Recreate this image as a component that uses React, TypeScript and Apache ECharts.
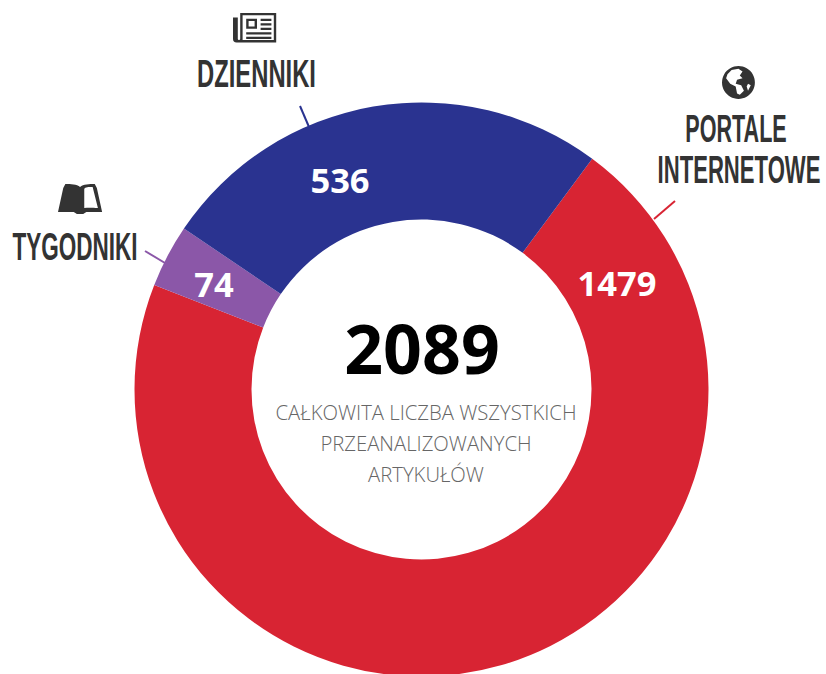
import React, { useEffect, useRef } from "react";
import * as echarts from "echarts";

const categories = ["PORTALE INTERNETOWE", "TYGODNIKI", "DZIENNIKI"];
const values = [1479, 74, 536];
const colors = ["#d82433", "#8b57a8", "#2a3390"];
const total = "2089";
const caption = ["CAŁKOWITA LICZBA WSZYSTKICH", "PRZEANALIZOWANYCH", "ARTYKUŁÓW"];
const labelPos = [[617, 282], [214, 283], [340, 179]];

echarts.graphic.registerShape("globe", echarts.graphic.extendPath(
  "M12 0a12 12 0 1 0 0.01 0zM7 3l5-1 3 2-2 3 2 2-4 1-1 3 4 1 2 4-3 3-2-1-1-5-4-2-3-4 1-3zM19 13l2 1-2 4-1-3z", {}) as any);
echarts.graphic.registerShape("paper", echarts.graphic.extendPath(
  "M6 0H36V26H3a3 3 0 0 1-3-3V4H4V23a1 1 0 0 0 2 0zM8 2V24H34V2zM11 5H20V14H11zM13 7V12H18V7zM23 5H32V7H23zM23 9H32V11H23zM23 13H32V15H23zM11 17H32V19H11zM11 21H32V23H11z", {}) as any);
echarts.graphic.registerShape("book", echarts.graphic.extendPath(
  "M7 0C12 0 18 0 21 3C24 0 30 0 35 0L37 4L42 28H27L24 30H18L15 28H0L5 4zM33 3C29 3 26 3 25 5V24C28 23.500 32 23.500 38 24z", {}) as any);

const head = (text: string, x: number, y: number, scaleX: number) => ({
  type: "text", x, y, scaleX, silent: true,
  style: { text, x: 0, y: 0, fill: "#333333", font: "bold 39px 'Liberation Sans Narrow', 'Liberation Sans'", textAlign: "center", textVerticalAlign: "middle" },
});
const leader = (x1: number, y1: number, x2: number, y2: number, stroke: string) => ({
  type: "line", shape: { x1, y1, x2, y2 }, style: { stroke, lineWidth: 2 }, silent: true,
});

export default function App() {
  const ref = useRef<HTMLDivElement>(null);
  useEffect(() => {
    const chart = echarts.init(ref.current!, undefined, { renderer: "svg" });
    chart.setOption({
      animation: false,
      backgroundColor: "#ffffff",
      series: [{
        type: "pie",
        center: [421.5, 389.5],
        radius: [170, 287],
        startAngle: 53.5,
        clockwise: true,
        silent: true,
        label: {
          show: true,
          position: "inside",
          formatter: "{c}",
          color: "#ffffff",
          fontFamily: "'Open Sans'",
          fontWeight: "bold",
          fontSize: 34.5,
        },
        labelLine: { show: false },
        labelLayout: (p: any) => ({
          x: labelPos[p.dataIndex][0],
          y: labelPos[p.dataIndex][1],
          align: "center",
          verticalAlign: "middle",
        }),
        data: categories.map((name, i) => ({ name, value: values[i], itemStyle: { color: colors[i] } })),
      }],
      graphic: [
        { type: "text", x: 422, y: 347, silent: true, style: { text: total, fill: "#000000", font: "bold 68px 'Open Sans'", textAlign: "center", textVerticalAlign: "middle" } },
        ...caption.map((text, i) => ({
          type: "text", x: 426, y: 412 + i * 31, silent: true,
          style: { text, fill: "#666666", font: "300 20.300px 'Open Sans'", textAlign: "center", textVerticalAlign: "middle" },
        })),
        head("DZIENNIKI", 256.500, 74, 0.61),
        head("PORTALE", 736, 128, 0.553),
        head("INTERNETOWE", 739, 169, 0.567),
        head("TYGODNIKI", 75, 247, 0.578),
        leader(300, 106, 309, 127, "#2a3390"),
        leader(654, 219, 675, 201, "#d82433"),
        leader(145, 251, 165, 263, "#8b57a8"),
        { type: "paper", x: 233, y: 13, scaleX: 1.2, scaleY: 1.13, style: { fill: "#333333", fillRule: "evenodd" }, silent: true },
        { type: "globe", x: 722, y: 66, scaleX: 1.37, scaleY: 1.37, style: { fill: "#333333", fillRule: "evenodd" }, silent: true },
        { type: "book", x: 58, y: 184, scaleX: 1.05, scaleY: 1, style: { fill: "#333333", fillRule: "evenodd" }, silent: true },
      ],
    });
    return () => chart.dispose();
  }, []);
  return <div ref={ref} style={{ position: "absolute", left: 0, top: 0, width: 826, height: 674 }} />;
}
